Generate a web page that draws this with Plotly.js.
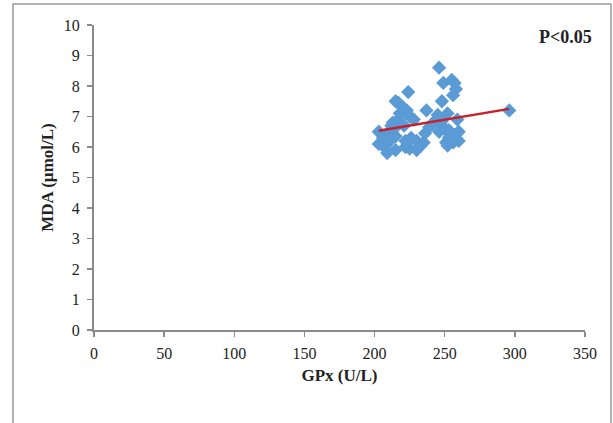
<!DOCTYPE html>
<html>
<head>
<meta charset="utf-8">
<script src="https://cdn.plot.ly/plotly-3.0.1.min.js"></script>
<style>html,body{margin:0;padding:0;background:#fff;}#chart{width:613px;height:423px;}</style>
</head>
<body>
<div id="chart"></div>
<script>
var gpx = [246,224,249,255,257,258,256,248,215,217,220,223,237,225,252,245,296,213,217,228,239,248,259,203,209,214,236,246,253,260,211,215,222,230,235,253,260,203,207,222,225,252,256,215,209,230,218,221,242,250,254,244,219,226,233,248,251,257,212,206];
var mda = [8.6,7.8,8.1,8.2,8.1,7.9,7.7,7.5,7.5,7.45,7.3,7.2,7.2,7.0,7.1,7.05,7.2,6.8,6.9,6.9,6.65,6.7,6.9,6.5,6.45,6.6,6.45,6.5,6.55,6.5,6.2,6.35,6.2,6.2,6.15,6.3,6.2,6.1,6.0,6.0,5.95,6.05,6.15,5.9,5.8,5.9,7.1,6.7,6.8,6.6,6.4,6.9,7.35,6.3,6.05,6.85,6.15,6.4,6.7,6.3];
var trendX = [203, 296];
var trendY = [6.53, 7.25];
var xTicks = [0,50,100,150,200,250,300,350];
var yTicks = [0,1,2,3,4,5,6,7,8,9,10];

var fam = 'Liberation Serif';
var data = [
  {x: gpx, y: mda, type: 'scatter', mode: 'markers',
   marker: {symbol: 'diamond', size: 11, color: '#5b9bd5'}, hoverinfo: 'none'},
  {x: trendX, y: trendY, type: 'scatter', mode: 'lines',
   line: {color: '#c8202a', width: 2.5}, hoverinfo: 'none'}
];
var layout = {
  width: 613, height: 423,
  margin: {l: 94, r: 28, t: 25, b: 93},
  showlegend: false,
  paper_bgcolor: '#fff', plot_bgcolor: '#fff',
  font: {family: fam, color: '#222', size: 16},
  xaxis: {
    range: [0, 350], tickvals: xTicks, ticktext: xTicks.map(String),
    showgrid: false, zeroline: false, showline: true, linecolor: '#8a8a8a', linewidth: 2,
    ticks: 'outside', ticklen: 5, tickcolor: '#8a8a8a', tickwidth: 1.5,
    tickfont: {family: fam, size: 16, color: '#222'},
    ticklabelstandoff: 3,
    title: {text: '<b>GPx (U/L)</b>', font: {family: fam, size: 17, color: '#222'}, standoff: 8}
  },
  yaxis: {
    range: [0, 10], tickvals: yTicks, ticktext: yTicks.map(String),
    showgrid: false, zeroline: false, showline: true, linecolor: '#8a8a8a', linewidth: 2,
    ticks: 'outside', ticklen: 5, tickcolor: '#8a8a8a', tickwidth: 1.5,
    tickfont: {family: fam, size: 16, color: '#222'},
    ticklabelstandoff: 4,
    title: {text: '<b>MDA (µmol/L)</b>', font: {family: fam, size: 17, color: '#222'}, standoff: 6}
  },
  shapes: [
    {type: 'rect', xref: 'paper', yref: 'paper',
     x0: (13-94)/491, x1: (611-94)/491, y0: (330-440)/305, y1: (330-4)/305,
     line: {color: '#9a9a9a', width: 1.5}, fillcolor: 'rgba(0,0,0,0)', layer: 'below'}
  ],
  annotations: [
    {text: '<b>P<0.05</b>', xref: 'paper', yref: 'paper', x: (594-94)/491, y: (330-37)/305,
     xanchor: 'right', yanchor: 'middle', showarrow: false,
     font: {family: fam, size: 18, color: '#222'}}
  ]
};
Plotly.newPlot('chart', data, layout, {displayModeBar: false, staticPlot: true});
</script>
</body>
</html>
